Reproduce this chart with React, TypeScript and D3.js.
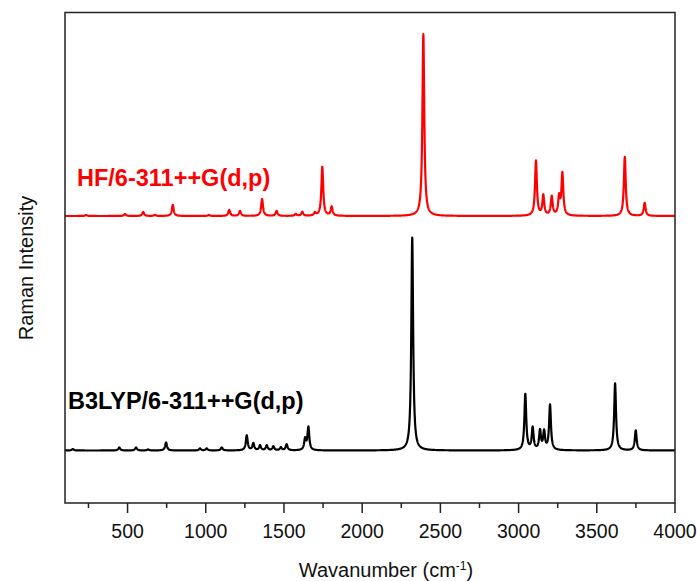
import React from "react";
import * as d3 from "d3";

// Peak lists: [wavenumber (cm-1), relative Raman intensity]
const hfPeaks: [number, number][] = [
  [235, 1], [484, 2], [600, 4], [675, 1], [789, 11], [1020, 1], [1150, 6], [1219, 5],
  [1360, 17], [1453, 5], [1575, 2], [1617, 4], [1698, 3], [1745, 49], [1805, 9],
  [2391, 182], [3111, 55], [3158, 20], [3212, 19], [3259, 18], [3280, 42],
  [3679, 59], [3806, 13],
];
const b3lypPeaks: [number, number][] = [
  [150, 1.5], [447, 3], [554, 3], [631, 1], [746, 8], [963, 2], [1006, 2], [1102, 3],
  [1262, 15], [1304, 7], [1347, 5], [1390, 5], [1432, 4], [1480, 3], [1517, 6],
  [1635, 11], [1656, 23], [2320, 213], [3043, 56], [3090, 22], [3137, 19], [3163, 18],
  [3201, 45], [3617, 67], [3749, 20],
];
const seriesNames = ["HF/6-311++G(d,p)", "B3LYP/6-311++G(d,p)"];
const seriesOffsets = [287, 52.5];
const xTicks = [500, 1000, 1500, 2000, 2500, 3000, 3500, 4000];
const xMinorTicks = [250, 750, 1250, 1750, 2250, 2750, 3250, 3750];
const xDomain: [number, number] = [100, 4000];
const fwhm = 14;

const W = 697, H = 581;
const L = 65, R = 675, T = 12.5, B = 503;

function spectrum(peaks: [number, number][], offset: number): [number, number][] {
  const pts: [number, number][] = [];
  const g = fwhm / 2;
  for (let w = xDomain[0]; w <= xDomain[1]; w += 1) {
    let s = 0;
    for (const [p, h] of peaks) {
      const d = (w - p) / g;
      s += h / (1 + d * d);
    }
    pts.push([w, s + offset]);
  }
  return pts;
}

export default function App() {
  const x = d3.scaleLinear().domain(xDomain).range([L, R]);
  const y = d3.scaleLinear().domain([0, B - T]).range([B, T]);
  const line = d3.line<[number, number]>().x(d => x(d[0])).y(d => y(d[1]));
  const font = "'Liberation Sans', Arial, sans-serif";
  const hf = spectrum(hfPeaks, seriesOffsets[0]);
  const b3 = spectrum(b3lypPeaks, seriesOffsets[1]);
  return (
    <svg width={W} height={H} style={{ position: "absolute", left: 0, top: 0, background: "#fff" }}>
      <path d={line(b3) || ""} fill="none" stroke="#000" strokeWidth={2.2} strokeLinejoin="round" />
      <path d={line(hf) || ""} fill="none" stroke="#ff0000" strokeWidth={2.2} strokeLinejoin="round" />
      <rect x={L} y={T} width={R - L} height={B - T} fill="none" stroke="#222" strokeWidth={1.5} />
      {xTicks.map(t => (
        <g key={t}>
          <line x1={x(t)} x2={x(t)} y1={B} y2={B + 10} stroke="#222" strokeWidth={1.5} />
          <text x={x(t)} y={538} textAnchor="middle" fontFamily={font} fontSize={19.5} fill="#111">{t}</text>
        </g>
      ))}
      {xMinorTicks.map(t => (
        <line key={t} x1={x(t)} x2={x(t)} y1={B} y2={B + 5} stroke="#222" strokeWidth={1.5} />
      ))}
      <text x={386} y={577} textAnchor="middle" fontFamily={font} fontSize={20} fill="#111">
        Wavanumber (cm<tspan dy={-7} fontSize={12}>-1</tspan><tspan dy={7}>)</tspan>
      </text>
      <text transform="translate(33,268) rotate(-90)" textAnchor="middle" fontFamily={font} fontSize={20} fill="#111">
        Raman Intensity
      </text>
      <text x={77} y={186} fontFamily={font} fontSize={23.5} fontWeight="bold" fill="#ff0000">{seriesNames[0]}</text>
      <text x={68} y={409} fontFamily={font} fontSize={23.5} fontWeight="bold" fill="#000">{seriesNames[1]}</text>
    </svg>
  );
}
